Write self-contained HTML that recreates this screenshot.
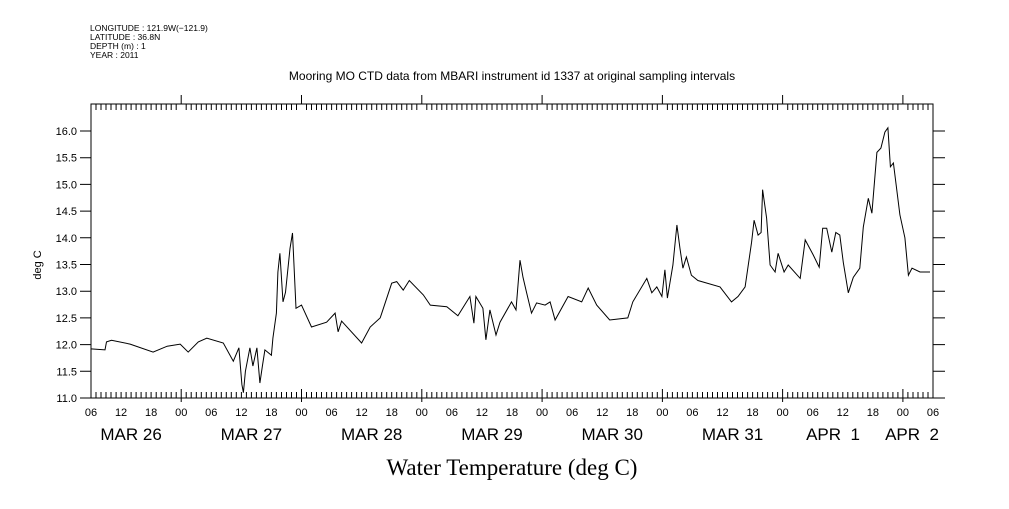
<!DOCTYPE html>
<html><head><meta charset="utf-8"><style>
body{margin:0;background:#fff}
svg text{font-family:"Liberation Sans",sans-serif;fill:#000}
</style></head><body>
<svg width="1009" height="504" viewBox="0 0 1009 504" xmlns="http://www.w3.org/2000/svg">
<g font-size="8.5">
<text x="90" y="31">LONGITUDE : 121.9W(−121.9)</text>
<text x="90" y="40">LATITUDE : 36.8N</text>
<text x="90" y="49">DEPTH (m) : 1</text>
<text x="90" y="58">YEAR : 2011</text>
</g>
<text x="512" y="80" font-size="12" text-anchor="middle">Mooring MO CTD data from MBARI instrument id 1337 at original sampling intervals</text>
<text x="512" y="475" font-size="23" text-anchor="middle" style="font-family:'Liberation Serif',serif">Water Temperature (deg C)</text>
<text transform="translate(41,265) rotate(-90)" font-size="11" text-anchor="middle">deg C</text>
<rect x="91" y="104" width="842" height="294" fill="none" stroke="#000" stroke-width="1"/>
<g id="axes"></g>
<polyline id="series" fill="none" stroke="#000" stroke-width="1"/>
</svg>
<script>
// hours since MAR 26 06:00
const hours=[0,2.8,3.1,4.1,7.8,12.4,15.2,17.8,19.4,21.4,23.1,26.4,28.4,29.5,30.1,30.4,30.8,31.7,32.3,33.1,33.7,34.2,34.7,36,36.3,37,37.3,37.7,38.3,38.8,39.7,40.2,40.9,42,44,47,48.7,49.3,50,54,55.7,57.7,60,61,62.3,63.5,66.3,67.7,71,73.2,75.6,76.4,76.8,78.2,78.8,79.6,80.8,81.6,83.9,84.8,85.6,86.2,86.9,87.9,88.9,90.6,91.6,92.6,95.2,97.9,99.2,100.9,103.5,107.1,108.1,110.9,111.9,112.9,113.9,114.5,115,116.1,116.9,117.5,118.1,118.8,119.8,121.1,125.5,127.8,129.1,130.5,131.8,132.3,133.1,133.7,134,134.8,135.5,136.5,137.1,138.3,139.1,141.5,142.5,144.1,145.3,146,146.8,147.8,148.6,149.4,150.1,151.1,152.1,153.4,154.1,155.1,155.8,156.8,157.6,158.4,159,159.5,160.1,161.4,162.4,163.1,163.8,165.4,167.4];
const temps=[11.92,11.9,12.05,12.08,12.01,11.86,11.97,12.01,11.86,12.05,12.12,12.03,11.69,11.94,11.25,11.1,11.5,11.94,11.6,11.94,11.28,11.6,11.9,11.8,12.12,12.59,13.36,13.71,12.8,12.98,13.8,14.09,12.68,12.74,12.33,12.42,12.59,12.24,12.44,12.03,12.33,12.5,13.15,13.18,13.02,13.2,12.93,12.74,12.71,12.54,12.9,12.4,12.9,12.68,12.09,12.65,12.18,12.42,12.8,12.65,13.58,13.26,12.98,12.59,12.78,12.74,12.8,12.46,12.9,12.8,13.06,12.74,12.46,12.5,12.8,13.24,12.97,13.08,12.9,13.4,12.87,13.49,14.24,13.81,13.43,13.64,13.3,13.2,13.08,12.8,12.9,13.08,13.92,14.33,14.05,14.1,14.9,14.37,13.49,13.36,13.71,13.36,13.49,13.24,13.96,13.68,13.45,14.18,14.18,13.73,14.1,14.05,13.54,12.97,13.26,13.43,14.2,14.74,14.46,15.6,15.68,15.98,16.06,15.33,15.4,14.43,14,13.3,13.43,13.36,13.36];
const yTicks=["11.0","11.5","12.0","12.5","13.0","13.5","14.0","14.5","15.0","15.5","16.0"];
const hourLabels=["06","12","18","00"];
const dayLabels=["MAR 26","MAR 27","MAR 28","MAR 29","MAR 30","MAR 31","APR  1","APR  2"];
const X0=91,X1=933,Y0=398,HSPAN=168;
const xs=h=>X0+h*(X1-X0)/HSPAN;
const ys=t=>Y0-(t-11)*53.4;
const NS="http://www.w3.org/2000/svg";
const g=document.getElementById('axes');
function mk(tag,at){const e=document.createElementNS(NS,tag);for(const k in at)e.setAttribute(k,at[k]);g.appendChild(e);return e;}
let d="";
for(let h=0;h<=HSPAN;h++){
  const x=xs(h).toFixed(1);const day=(h%24)==18;
  d+=`M${x} ${Y0}v${day?-9:-6}M${x} 104v${day?-9:6}`;
  if(day){d+=`M${x} ${Y0}v4`;}
}
yTicks.forEach(v=>{const y=ys(+v).toFixed(1);d+=`M80 ${y}H91M933 ${y}H945`;});
const tp=mk('path',{d:d,stroke:'#000','stroke-width':1,fill:'none'});


yTicks.forEach(v=>{const t=mk('text',{x:77,y:ys(+v)+4,'font-size':11,'text-anchor':'end'});t.textContent=v;

});
for(let h=0;h<=HSPAN;h+=6){const t=mk('text',{x:xs(h),y:416,'font-size':11,'text-anchor':'middle'});t.textContent=hourLabels[(h/6)%4];

}
dayLabels.forEach((s,i)=>{let h=i*24+8; let x=xs(h); if(i==6)x=833; if(i==7)x=912; const t=mk('text',{x:x,y:440,'font-size':17,'text-anchor':'middle'});t.textContent=s;t.style.whiteSpace='pre';

});
document.getElementById('series').setAttribute('points',hours.map((h,i)=>xs(h).toFixed(1)+','+ys(temps[i]).toFixed(1)).join(' '));
</script>
</body></html>
